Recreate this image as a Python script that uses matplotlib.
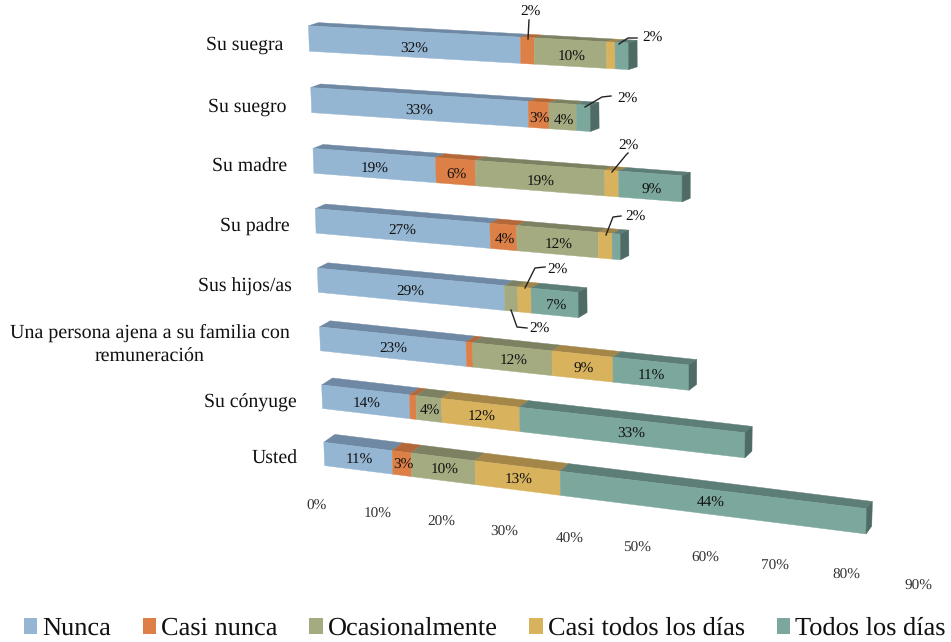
import numpy as np
import matplotlib
matplotlib.use("Agg")
import matplotlib.pyplot as plt
from matplotlib.patches import Polygon, Patch

plt.rcParams['font.family'] = ['Liberation Serif', 'DejaVu Serif']
plt.rcParams['text.hinting'] = 'no_hinting'

categories = ["Su suegra", "Su suegro", "Su madre", "Su padre", "Sus hijos/as",
              "Una persona ajena a su familia con\nremuneración", "Su cónyuge", "Usted"]
series_names = ["Nunca", "Casi nunca", "Ocasionalmente", "Casi todos los días", "Todos los días"]
nunca = [32, 33, 19, 27, 29, 23, 14, 11]
casi_nunca = [2, 3, 6, 4, 0, 1, 1, 3]
ocasional = [10.4, 4, 19, 12, 2, 12, 4, 10]
casi_todos = [1.2, 0, 2, 2, 2, 9, 12, 13]
todos = [1.9, 2, 9, 1.2, 7, 11, 33, 44]
# which labels get drawn inside the bar (the small ones have a leader line instead)
min_inside = 3
ticks = [0, 10, 20, 30, 40, 50, 60, 70, 80, 90]

front_cols = ["#94B6D2", "#DD8047", "#A5AB81", "#D8B25C", "#7BA79D"]
top_cols = ["#6F89A4", "#B4683A", "#7D8162", "#A48748", "#5D7E77"]
side_col = "#4F6B65"

# calibration of the chart's perspective: (value, row) -> pixel
calib_src = [(0, 0), (47.5, 0), (0, 2), (55, 2), (0, 3), (46, 3),
             (0, 5), (56, 5), (0, 6), (64, 6), (0, 7), (81, 7)]
front_dst = [(308.3, 26), (626, 43), (313.3, 148.3), (683.3, 175), (315.3, 209.3), (621.7, 234),
             (319.3, 327.3), (689, 365), (321.7, 384.7), (745, 432.7), (323.3, 441.7), (865.7, 509.3)]
back_dst = [(318, 23), (636, 40), (323, 144.3), (691, 172.3), (326, 204), (628.3, 230),
            (330, 320.7), (697, 360), (332, 378), (752, 426), (335, 434.3), (872, 501.7)]
bar_h = 0.41


def fit_plane(src, dst):
    A, b = [], []
    for (u, v), (x, y) in zip(src, dst):
        A.append([u, v, 1, 0, 0, 0, -x * u, -x * v])
        A.append([0, 0, 0, u, v, 1, -y * u, -y * v])
        b += [x, y]
    sol = np.linalg.lstsq(np.array(A, float), np.array(b, float), rcond=None)[0]
    return np.append(sol, 1).reshape(3, 3)


H_front = fit_plane(calib_src, front_dst)
H_back = fit_plane(calib_src, back_dst)


def proj(H, u, v):
    p = H @ np.array([u, v, 1.0])
    return p[0] / p[2], p[1] / p[2]


fig = plt.figure(figsize=(9.51, 6.42), dpi=100)
ax = fig.add_axes([0, 0, 1, 1])
ax.set_xlim(0, 951)
ax.set_ylim(642, 0)
ax.axis('off')

data = np.array([nunca, casi_nunca, ocasional, casi_todos, todos], float).T

for i, row in enumerate(data):
    left = 0
    for j, val in enumerate(row):
        if val == 0:
            continue
        right = left + val
        top = [proj(H_front, left, i), proj(H_front, right, i), proj(H_back, right, i), proj(H_back, left, i)]
        ax.add_patch(Polygon(top, closed=True, fc=top_cols[j], ec=top_cols[j], lw=0.3))
        face = [proj(H_front, left, i), proj(H_front, right, i),
                proj(H_front, right, i + bar_h), proj(H_front, left, i + bar_h)]
        ax.add_patch(Polygon(face, closed=True, fc=front_cols[j], ec=front_cols[j], lw=0.3))
        if val >= min_inside:
            cx, cy = proj(H_front, left + val / 2, i + bar_h / 2)
            # labels sit a little lower than the face centre, more so on the top rows
            ax.text(cx + 1, cy + 4.5 - 0.4 * i, "%.0f%%" % val, ha='center', va='center',
                    fontsize=11, color="#111111")
        left = right
    side = [proj(H_front, left, i), proj(H_back, left, i),
            proj(H_back, left, i + bar_h), proj(H_front, left, i + bar_h)]
    ax.add_patch(Polygon(side, closed=True, fc=side_col, ec=side_col, lw=0.3))

# category labels
cat_x = [283, 286, 287, 290, 292, 291, 297, 298]
cat_y = [45, 107, 167, 227, 287, 345, 403, 459]
for i, name in enumerate(categories):
    if "\n" in name:
        ax.text(150, cat_y[i], name, ha='center', va='center', fontsize=14.4, linespacing=1.4, color="#111111")
    else:
        ax.text(cat_x[i], cat_y[i], name, ha='right', va='center', fontsize=14.2, color="#111111")

# value axis labels
tick_x = [317, 378, 441, 504, 570, 637, 705, 775, 846, 918]
tick_y = [506, 514, 522, 532, 539, 548, 558, 566, 575, 586]
for t, x, y in zip(ticks, tick_x, tick_y):
    ax.text(x, y, "%d%%" % t, ha='center', va='center', fontsize=11, color="#333333")

# leader lines for the small segments
leaders = [
    ([529, 528], [20, 39], 530, 12),
    ([619, 628, 637], [44, 38, 38], 652, 38),
    ([585, 602, 611], [107, 97, 96], 627, 99),
    ([612, 626, 628], [172, 155, 153], 628, 146),
    ([606, 613, 621], [235, 217, 216], 635, 217),
    ([525, 535, 545], [288, 268, 267], 557, 270),
    ([511, 517, 527], [310, 327, 328], 539, 329),
]
for xs, ys, tx, ty in leaders:
    ax.plot(xs, ys, color="#222222", lw=1)
    ax.text(tx, ty, "2%", ha='center', va='center', fontsize=11, color="#111111")

handles = [Patch(fc=c, ec='none') for c in front_cols]
ax.legend(handles, series_names, ncol=5, loc='lower center', bbox_to_anchor=(0.5095, 0.002), frameon=False,
          fontsize=19, handlelength=0.52, handleheight=0.52, handletextpad=0.17, columnspacing=1.21,
          labelcolor="#111111", borderpad=0, borderaxespad=0)

fig.savefig('out.png', dpi=100)
